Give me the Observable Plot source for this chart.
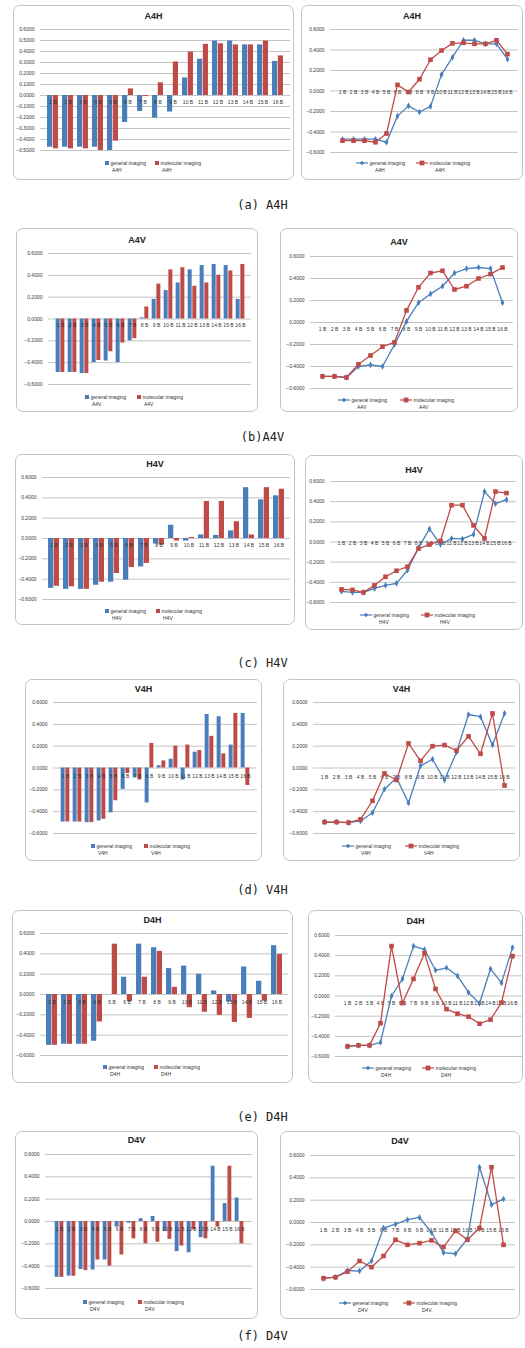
<!DOCTYPE html>
<html><head><meta charset="utf-8">
<script src="https://cdn.jsdelivr.net/npm/d3@7"></script>
<script src="https://cdn.jsdelivr.net/npm/@observablehq/plot@0.6"></script>
<style>
body{margin:0;background:#fff;}
#root{position:relative;width:525px;height:1348px;overflow:hidden;font-family:"Liberation Sans",Arial,sans-serif;}
.box{position:absolute;border:1px solid #c4c4c4;border-radius:7px;box-sizing:border-box;background:#fff;}
.title{position:absolute;text-align:center;font-weight:bold;font-size:9px;color:#222;line-height:10px;}
.leg{position:absolute;font-size:5px;line-height:7px;color:#333;white-space:nowrap;}
.cap{position:absolute;left:0;width:525px;text-align:center;font-family:"DejaVu Sans Mono",monospace;font-size:12px;line-height:14px;color:#222;}
</style></head><body><div id="root"></div>
<script>
const categories = ["1 B","2 B","3 B","4 B","5 B","6 B","7 B","8 B","9 B","10 B","11 B","12 B","13 B","14 B","15 B","16 B"];
const seriesNames = ["general imaging","molecular imaging"];
const panelTitles = ["A4H","A4V","H4V","V4H","D4H","D4V"];
const captions = ["(a) A4H","(b)A4V","(c) H4V","(d) V4H","(e) D4H","(f) D4V"];
const ticksTenth = [0.6,0.5,0.4,0.3,0.2,0.1,0,-0.1,-0.2,-0.3,-0.4,-0.5];
const ticksFifth = [0.6,0.4,0.2,0,-0.2,-0.4,-0.6];

const a4hGeneral   = [-0.47,-0.47,-0.47,-0.47,-0.50,-0.245,-0.145,-0.205,-0.15,0.16,0.33,0.495,0.495,0.46,0.46,0.31];
const a4hMolecular = [-0.485,-0.485,-0.485,-0.50,-0.415,0.06,-0.01,0.115,0.305,0.395,0.465,0.47,0.46,0.46,0.495,0.36];
const a4vGeneral   = [-0.49,-0.49,-0.50,-0.40,-0.385,-0.40,-0.20,0.01,0.18,0.26,0.33,0.45,0.49,0.50,0.49,0.18];
const a4vMolecular = [-0.49,-0.49,-0.50,-0.38,-0.30,-0.22,-0.18,0.11,0.32,0.45,0.47,0.30,0.33,0.40,0.44,0.50];
const h4vGeneral   = [-0.49,-0.50,-0.50,-0.46,-0.43,-0.41,-0.28,-0.055,0.13,-0.025,0.035,0.03,0.075,0.50,0.38,0.42];
const h4vMolecular = [-0.47,-0.475,-0.50,-0.43,-0.345,-0.285,-0.245,-0.065,-0.025,0.01,0.365,0.365,0.165,0.035,0.50,0.485];
const v4hGeneral   = [-0.495,-0.495,-0.50,-0.485,-0.41,-0.195,-0.09,-0.32,0.02,0.08,-0.11,0.145,0.49,0.47,0.21,0.50];
const v4hMolecular = [-0.495,-0.495,-0.50,-0.47,-0.30,-0.05,-0.11,0.225,0.065,0.20,0.21,0.16,0.29,0.13,0.50,-0.16];
const d4hGeneral   = [-0.50,-0.49,-0.49,-0.46,0.0,0.17,0.495,0.46,0.255,0.28,0.20,0.035,-0.075,0.27,0.13,0.48];
const d4hMolecular = [-0.50,-0.49,-0.49,-0.27,0.495,-0.07,0.17,0.425,0.07,-0.13,-0.175,-0.205,-0.275,-0.235,-0.065,0.395];
const d4vGeneral   = [-0.50,-0.49,-0.43,-0.435,-0.345,-0.05,-0.015,0.025,0.045,-0.09,-0.27,-0.28,-0.145,0.495,0.16,0.21];
const d4vMolecular = [-0.50,-0.49,-0.44,-0.345,-0.40,-0.30,-0.155,-0.20,-0.185,-0.16,-0.22,-0.075,-0.155,-0.05,0.495,-0.20];

const seriesColors = ["#4a7ebb","#be4b48"];

const valuesByChart = {
  A4H:[a4hGeneral,a4hMolecular], A4V:[a4vGeneral,a4vMolecular], H4V:[h4vGeneral,h4vMolecular],
  V4H:[v4hGeneral,v4hMolecular], D4H:[d4hGeneral,d4hMolecular], D4V:[d4vGeneral,d4vMolecular]
};

// layout (pixels on the page)
const layout = [
 {chart:0, kind:"bar",  box:[13,5,294,180],   yTop:29,  yBot:150,  xl:40,  xr:290, titleY:16,   legY:163,  legX:[107,157], catDy:7, ticks:ticksTenth},
 {chart:0, kind:"line", box:[301,5,523,180],  yTop:29,  yBot:152,  xl:330, xr:518, titleY:16,   legY:163,  legX:[356,416], catDy:1, ticks:ticksFifth},
 {chart:1, kind:"bar",  box:[16,228,258,412], yTop:253, yBot:384,  xl:48,  xr:251, titleY:240,  legY:397,  legX:[87,139],  catDy:6, ticks:ticksFifth},
 {chart:1, kind:"line", box:[280,228,518,412],yTop:256, yBot:388,  xl:310, xr:513, titleY:242,  legY:400,  legX:[338,400], catDy:7, ticks:ticksFifth},
 {chart:2, kind:"bar",  box:[15,454,295,625], yTop:477, yBot:599,  xl:42,  xr:290, titleY:464,  legY:611,  legX:[107,158], catDy:7, ticks:ticksFifth},
 {chart:2, kind:"line", box:[305,455,523,630],yTop:481, yBot:602,  xl:330, xr:516, titleY:470,  legY:615,  legX:[360,421], catDy:1, ticks:ticksFifth},
 {chart:3, kind:"bar",  box:[25,679,262,861], yTop:702, yBot:833,  xl:53,  xr:257, titleY:689,  legY:846,  legX:[93,146],  catDy:8, ticks:ticksFifth},
 {chart:3, kind:"line", box:[283,679,520,861],yTop:702, yBot:833,  xl:313, xr:515, titleY:689,  legY:846,  legX:[342,405], catDy:9, ticks:ticksFifth},
 {chart:4, kind:"bar",  box:[12,910,293,1083],yTop:933, yBot:1055, xl:40,  xr:288, titleY:920,  legY:1067, legX:[105,156], catDy:8, ticks:ticksFifth},
 {chart:4, kind:"line", box:[308,910,523,1083],yTop:935,yBot:1056, xl:335, xr:523, titleY:921,  legY:1068, legX:[362,422], catDy:7, ticks:ticksFifth},
 {chart:5, kind:"bar",  box:[15,1131,258,1319],yTop:1154,yBot:1288,xl:45,  xr:252, titleY:1140, legY:1302, legX:[85,140],  catDy:8, ticks:ticksFifth},
 {chart:5, kind:"line", box:[280,1131,520,1319],yTop:1155,yBot:1289,xl:310,xr:515, titleY:1141, legY:1303, legX:[339,403], catDy:8, ticks:ticksFifth}
];
const captionY = [205,437,663,890,1117,1336];

const root = document.getElementById("root");

function el(tag, cls, css){
  const e = document.createElement(tag);
  if (cls) e.className = cls;
  Object.assign(e.style, css || {});
  root.appendChild(e);
  return e;
}

function render(p){
  const [l,t,r,b] = p.box;
  const name = panelTitles[p.chart];
  el("div","box",{left:l+"px",top:t+"px",width:(r-l)+"px",height:(b-t)+"px"});
  const tt = el("div","title",{left:l+"px",width:(r-l)+"px",top:(p.titleY-5)+"px"});
  tt.textContent = name;

  const [gen, mol] = valuesByChart[name];
  const rows = categories.flatMap((c,i)=>[
    {cat:c, series:seriesNames[0], value:gen[i]},
    {cat:c, series:seriesNames[1], value:mol[i]}
  ]);
  const genRows = rows.filter(d=>d.series===seriesNames[0]);
  const molRows = rows.filter(d=>d.series===seriesNames[1]);
  const pad = 8;
  const opts = {
    width: r-l, height: p.yBot-p.yTop+2*pad,
    marginTop: pad, marginBottom: pad, marginLeft: p.xl-l, marginRight: r-p.xr,
    style: {fontSize:"5px", fontFamily:"Liberation Sans, Arial, sans-serif", background:"transparent", color:"#333", overflow:"visible"},
    y: {domain:[d3.min(p.ticks), d3.max(p.ticks)], ticks:p.ticks, tickFormat:d3.format(".4f"), tickSize:0, tickPadding:6, label:null},
    color: {domain:seriesNames, range:seriesColors}
  };
  if (p.kind === "bar"){
    const bw = (p.xr-p.xl)/categories.length;
    opts.x = {type:"band", domain:categories, padding:0, axis:null};
    opts.marks = [
      Plot.ruleY(p.ticks, {stroke:"#b5b5b5", strokeWidth:0.8}),
      Plot.barY(genRows, {x:"cat", y:"value", fill:seriesColors[0], insetLeft:bw*0.13, insetRight:bw*0.5}),
      Plot.barY(molRows, {x:"cat", y:"value", fill:seriesColors[1], insetLeft:bw*0.5, insetRight:bw*0.13}),
      Plot.text(categories, {x:d=>d, y:0, text:d=>d, dy:p.catDy, fontSize:5, fill:"#333"})
    ];
  } else {
    opts.x = {type:"point", domain:categories, padding:0.5, axis:null};
    opts.marks = [
      Plot.ruleY(p.ticks, {stroke:"#b5b5b5", strokeWidth:0.8}),
      Plot.text(categories, {x:d=>d, y:0, text:d=>d, dy:p.catDy, fontSize:5, fill:"#333"}),
      Plot.line(rows, {x:"cat", y:"value", z:"series", stroke:"series", strokeWidth:1.3}),
      Plot.dot(genRows, {x:"cat", y:"value", symbol:"diamond", r:2, fill:seriesColors[0]}),
      Plot.dot(molRows, {x:"cat", y:"value", symbol:"square", r:2.6, fill:seriesColors[1]})
    ];
  }
  const svg = Plot.plot(opts);
  svg.style.position = "absolute";
  svg.style.left = l+"px";
  svg.style.top = (p.yTop-pad)+"px";
  root.appendChild(svg);

  seriesNames.forEach((s,k)=>{
    const x = p.legX[k];
    const c = seriesColors[k];
    let marker;
    if (p.kind === "bar"){
      marker = `<span style="display:inline-block;width:4px;height:4px;background:${c};margin-right:1.5px;vertical-align:-0.5px"></span>`;
      const d = el("div","leg",{left:(x-2)+"px", top:(p.legY-3.5)+"px"});
      d.innerHTML = marker + s + `<br><span style="padding-left:7px">${name}</span>`;
    } else {
      const sym = k===0
        ? `<path d="M6,0.8 L8.2,3 L6,5.2 L3.8,3 Z" fill="${c}"/>`
        : `<rect x="3.6" y="0.6" width="4.8" height="4.8" fill="${c}"/>`;
      marker = `<svg width="12" height="6" style="vertical-align:-1px;margin-right:1.5px"><line x1="0" x2="12" y1="3" y2="3" stroke="${c}" stroke-width="1.2"/>${sym}</svg>`;
      const d = el("div","leg",{left:x+"px", top:(p.legY-3.5)+"px"});
      d.innerHTML = marker + s + `<br><span style="padding-left:19px">${name}</span>`;
    }
  });
}

layout.forEach(render);

captions.forEach((c,i)=>{
  const d = el("div","cap",{top:(captionY[i]-7)+"px"});
  d.textContent = c;
});
</script></body></html>
